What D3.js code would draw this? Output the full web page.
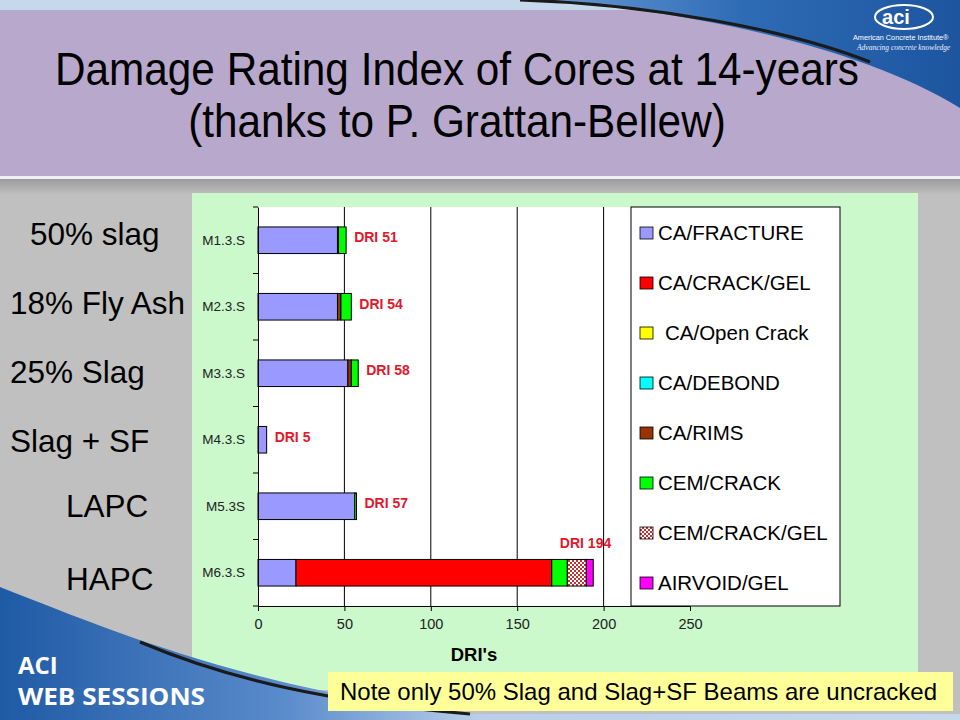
<!DOCTYPE html>
<html><head><meta charset="utf-8">
<script src="https://cdn.jsdelivr.net/npm/d3@7"></script>
<style>
html,body{margin:0;padding:0;background:#c0c0c0;}
svg{display:block;font-family:"Liberation Sans",Arial,sans-serif;}
</style></head>
<body>
<svg id="chart" width="960" height="720"></svg>
<script>
// ---------- DATA ----------
const categories = ["M1.3.S","M2.3.S","M3.3.S","M4.3.S","M5.3S","M6.3.S"];
const mixLabels = ["50% slag","18% Fly Ash","25% Slag","Slag + SF","LAPC","HAPC"];
const seriesNames = ["CA/FRACTURE","CA/CRACK/GEL","CA/Open Crack","CA/DEBOND","CA/RIMS","CEM/CRACK","CEM/CRACK/GEL","AIRVOID/GEL"];
const caFracture  = [46, 46, 52, 5, 56, 22];
const caCrackGel  = [0, 0, 0, 0, 0, 148];
const caOpenCrack = [0, 0, 0, 0, 0, 0];
const caDebond    = [0, 0, 0, 0, 0, 0];
const caRims      = [0.6, 2, 2, 0, 0, 0];
const cemCrack    = [4.4, 6, 4, 0, 1, 9];
const cemCrackGel = [0, 0, 0, 0, 0, 11];
const airvoidGel  = [0, 0, 0, 0, 0, 4];
const driTotals   = [51, 54, 58, 5, 57, 194];
const xTicks = [0, 50, 100, 150, 200, 250];
const titleLines = ["Damage Rating Index of Cores at 14-years", "(thanks to P. Grattan-Bellew)"];
const noteText = "Note only 50% Slag and Slag+SF Beams are uncracked";

// ---------- STYLE ----------
const seriesColors = ["#9999ff","#ff0000","#ffff00","#00ffff","#993300","#00ff00","url(#checker)","#ff00ff"];
const svg = d3.select("#chart");
const W = 960, H = 720;

const defs = svg.append("defs");
const pat = defs.append("pattern").attr("id","checker").attr("patternUnits","userSpaceOnUse")
  .attr("width",4).attr("height",4);
pat.append("rect").attr("width",4).attr("height",4).attr("fill","#ffffff");
pat.append("rect").attr("width",2).attr("height",2).attr("fill","#c83030");
pat.append("rect").attr("x",2).attr("y",2).attr("width",2).attr("height",2).attr("fill","#c83030");
const g1 = defs.append("linearGradient").attr("id","blueTop").attr("x1","0").attr("y1","0").attr("x2","1").attr("y2","0");
g1.append("stop").attr("offset","0").attr("stop-color","#6f9fd6");
g1.append("stop").attr("offset","0.5").attr("stop-color","#2f6cb6");
g1.append("stop").attr("offset","1").attr("stop-color","#1d559f");
const g2 = defs.append("linearGradient").attr("id","blueBot").attr("x1","0").attr("y1","0").attr("x2","1").attr("y2","0");
g2.append("stop").attr("offset","0").attr("stop-color","#1f5aa5");
g2.append("stop").attr("offset","0.3").attr("stop-color","#5b8ccc");
g2.append("stop").attr("offset","0.5").attr("stop-color","#b9cfe9");
g2.append("stop").attr("offset","1").attr("stop-color","#c6d8ec");
const g3 = defs.append("linearGradient").attr("id","greyStrip").attr("x1","0").attr("y1","0").attr("x2","0").attr("y2","1");
g3.append("stop").attr("offset","0").attr("stop-color","#9c9c9c");
g3.append("stop").attr("offset","1").attr("stop-color","#c0c0c0");

// ---------- SLIDE BACKGROUND ----------
svg.append("rect").attr("width",W).attr("height",H).attr("fill","#c0c0c0");
svg.append("rect").attr("width",W).attr("height",12).attr("fill","#c6d9ec");
svg.append("rect").attr("y",10).attr("width",W).attr("height",166).attr("fill","#b8a9cc");
svg.append("rect").attr("y",176).attr("width",W).attr("height",3).attr("fill","#f2f0f5");
svg.append("rect").attr("y",179).attr("width",W).attr("height",16).attr("fill","url(#greyStrip)");
svg.append("path").attr("d","M520,0 C650,4 850,40 960,108 L960,0 Z").attr("fill","url(#blueTop)");
svg.append("path").attr("d","M520,0 C650,4 790,30 870,62").attr("fill","none").attr("stroke","#1a1a1a").attr("stroke-width",3);
// logo
svg.append("ellipse").attr("cx",904).attr("cy",17).attr("rx",29).attr("ry",12)
  .attr("fill","none").attr("stroke","#ffffff").attr("stroke-width",2);
svg.append("text").attr("x",896).attr("y",24).attr("text-anchor","middle").attr("fill","#ffffff")
  .attr("font-size",20).attr("font-weight","bold").text("aci");
svg.append("text").attr("x",853).attr("y",40).attr("fill","#ffffff")
  .attr("font-size",7.3).text("American Concrete Institute\u00AE");
svg.append("text").attr("x",857).attr("y",50).attr("fill","#eaf0ff")
  .attr("font-size",7.5).attr("font-style","italic").attr("font-family","Liberation Serif, serif")
  .text("Advancing concrete knowledge");

// title (condensed)
svg.selectAll("text.title").data(titleLines).join("text").attr("class","title")
  .attr("transform",(d,i)=>`translate(457,${85+i*52}) scale(0.9,1)`).attr("text-anchor","middle")
  .attr("font-size",47).attr("fill","#000").text(d=>d);

// ---------- CHART ----------
svg.append("rect").attr("x",192).attr("y",193).attr("width",726).attr("height",497).attr("fill","#ccf9cc");

// bottom-left swoosh
svg.append("path").attr("d","M0,587 C110,630 250,690 470,714 L960,714 L960,720 L0,720 Z").attr("fill","url(#blueBot)");
svg.append("path").attr("d","M140,642 C230,680 330,702 470,714").attr("fill","none").attr("stroke","#1a1a1a").attr("stroke-width",3);
svg.append("text").attr("x",18).attr("y",674).attr("fill","#fff").attr("font-family","Open Sans, sans-serif")
  .attr("font-weight","bold").attr("font-size",24).text("ACI");
svg.append("text").attr("x",18).attr("y",705).attr("fill","#fff").attr("font-family","Open Sans, sans-serif")
  .attr("font-weight","bold").attr("font-size",24).attr("textLength",187).attr("lengthAdjust","spacingAndGlyphs").text("WEB SESSIONS");

const plot = {l:258, r:690, t:207, b:606};
const x = d3.scaleLinear().domain([0,250]).range([plot.l, plot.r]);
const y = d3.scaleBand().domain(categories).range([plot.t, plot.b]).paddingInner(0.6).paddingOuter(0.3);

svg.append("rect").attr("x",plot.l).attr("y",plot.t).attr("width",plot.r-plot.l).attr("height",plot.b-plot.t).attr("fill","#ffffff");

svg.append("g").selectAll("line").data(xTicks.slice(1)).join("line")
  .attr("x1",d=>x(d)).attr("x2",d=>x(d)).attr("y1",plot.t).attr("y2",plot.b)
  .attr("stroke","#000").attr("stroke-width",1);

const allSeries = [caFracture, caCrackGel, caOpenCrack, caDebond, caRims, cemCrack, cemCrackGel, airvoidGel];
const table = categories.map((c,i)=>{ const o={cat:c}; seriesNames.forEach((s,k)=>o[s]=allSeries[k][i]); return o; });
const stacked = d3.stack().keys(seriesNames)(table);
const barG = svg.append("g");
stacked.forEach((layer,k)=>{
  barG.append("g").attr("fill",seriesColors[k]).selectAll("rect")
    .data(layer.filter(d=>d[1]-d[0]>0)).join("rect")
    .attr("x",d=>x(d[0])).attr("width",d=>x(d[1])-x(d[0]))
    .attr("y",d=>y(d.data.cat)).attr("height",y.bandwidth())
    .attr("stroke","#000").attr("stroke-width",1);
});

const yAxis = svg.append("g").attr("transform",`translate(${plot.l},0)`)
  .call(d3.axisLeft(y).tickSize(0).tickPadding(13));
yAxis.select(".domain").attr("stroke","#000");
yAxis.selectAll("text").attr("font-size",13.5).attr("fill","#222").attr("font-family","Liberation Sans, Arial, sans-serif");
const bounds = categories.map(c=>y(c)-(y.step()-y.bandwidth())/2).concat([plot.b]);
svg.append("g").selectAll("line").data(bounds).join("line")
  .attr("x1",plot.l-5).attr("x2",plot.l).attr("y1",d=>d).attr("y2",d=>d).attr("stroke","#000");

const xAxis = svg.append("g").attr("transform",`translate(0,${plot.b})`)
  .call(d3.axisBottom(x).tickValues(xTicks).tickSize(5).tickSizeOuter(0).tickPadding(8));
xAxis.select(".domain").attr("stroke","#000");
xAxis.selectAll("line").attr("stroke","#000");
xAxis.selectAll("text").attr("font-size",14.5).attr("fill","#222").attr("font-family","Liberation Sans, Arial, sans-serif");

svg.append("text").attr("x",474).attr("y",661).attr("text-anchor","middle")
  .attr("font-size",18.5).attr("font-weight","bold").attr("fill","#000").text("DRI's");

svg.append("g").selectAll("text").data(categories).join("text")
  .attr("x",(c,i)=> i===5 ? x(driTotals[i])+18 : x(driTotals[i])+8)
  .attr("y",(c,i)=> i===5 ? y(c)-11 : y(c)+y.bandwidth()/2+2)
  .attr("text-anchor",(c,i)=> i===5 ? "end" : "start")
  .attr("font-size",14).attr("font-weight","bold").attr("fill","#e3172b")
  .text((c,i)=>"DRI "+driTotals[i]);

const lg = svg.append("g");
lg.append("rect").attr("x",631).attr("y",plot.t).attr("width",209).attr("height",plot.b-plot.t)
  .attr("fill","#fff").attr("stroke","#000").attr("stroke-width",1);
const items = lg.selectAll("g.item").data(seriesNames).join("g").attr("class","item")
  .attr("transform",(d,i)=>`translate(640,${233+i*50})`);
items.append("rect").attr("x",0).attr("y",-6).attr("width",13).attr("height",12)
  .attr("fill",(d,i)=>seriesColors[i]).attr("stroke","#000").attr("stroke-width",0.8);
items.append("text").attr("x",d=>d==="CA/Open Crack"?25:18).attr("y",7)
  .attr("font-size",20.5).attr("fill","#000").text(d=>d);

const mixX = [30,10,10,10,66,66];
const mixY = d3.scalePoint().domain(mixLabels).range([245,590]);
svg.append("g").selectAll("text").data(mixLabels).join("text")
  .attr("x",(d,i)=>mixX[i]).attr("y",(d,i)=>mixY(d) - (i===4 ? 4 : 0))
  .attr("font-size",31.5).attr("fill","#000").text(d=>d);

svg.append("rect").attr("x",328).attr("y",672).attr("width",625).attr("height",39).attr("fill","#ffff99");
svg.append("text").attr("x",340).attr("y",700).attr("font-size",24).attr("fill","#000").text(noteText);
</script>
</body></html>
